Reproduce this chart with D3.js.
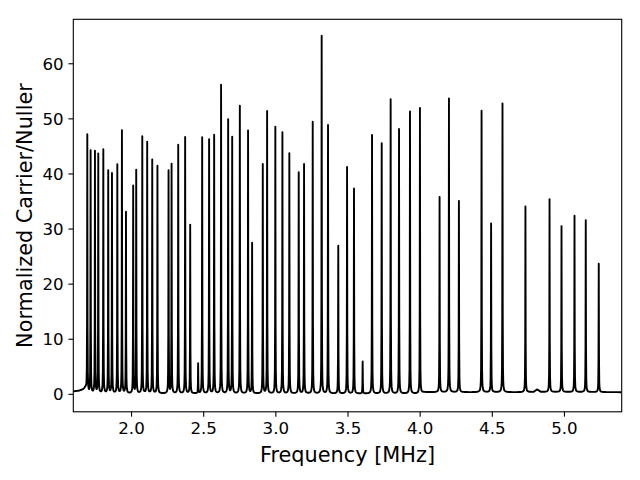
<!DOCTYPE html>
<html>
<head>
<meta charset="utf-8">
<script src="https://cdn.jsdelivr.net/npm/d3@7"></script>
<style>
  html, body { margin: 0; padding: 0; background: #fff; }
  svg { display: block; font-family: "DejaVu Sans", sans-serif; }
</style>
</head>
<body>
<svg id="chart" width="640" height="480"></svg>
<script>
// ---- data ----
// resonance peak frequencies (MHz) and their heights
const peakFreq = [
  1.697, 1.720, 1.750, 1.773, 1.808, 1.842, 1.868, 1.905, 1.937, 1.965,
  2.015, 2.036, 2.078, 2.112, 2.147, 2.183, 2.260, 2.281, 2.327, 2.375,
  2.410, 2.465, 2.493, 2.541, 2.576, 2.624, 2.673, 2.701, 2.754, 2.811,
  2.839, 2.913, 2.943, 3.000, 3.049, 3.097, 3.162, 3.199, 3.259, 3.321,
  3.365, 3.436, 3.497, 3.545, 3.605, 3.670, 3.737, 3.799, 3.857, 3.933,
  4.002, 4.138, 4.203, 4.272, 4.429, 4.495, 4.574, 4.733, 4.900, 4.983,
  5.073, 5.151, 5.241
];
const peakHeight = [
  46.8, 44.0, 43.9, 43.4, 44.2, 40.4, 39.9, 41.5, 47.7, 32.9,
  37.6, 40.5, 46.6, 45.6, 42.4, 41.3, 40.4, 41.6, 45.1, 46.5,
  30.6, 5.4, 46.5, 46.1, 46.9, 56.0, 49.7, 46.5, 52.2, 47.7,
  27.3, 41.6, 51.2, 48.4, 47.4, 43.6, 40.1, 41.6, 49.3, 64.9,
  48.7, 26.8, 41.1, 37.2, 5.8, 46.9, 45.4, 53.4, 48.0, 51.2,
  51.8, 35.4, 53.3, 34.7, 51.1, 30.6, 52.4, 33.7, 35.0, 30.1,
  32.0, 31.2, 23.3
];
// background level between the resonances
const baseFreq  = [1.60, 1.64, 1.67, 1.685, 1.697, 1.71, 4.00, 4.03, 4.70, 4.79, 4.814, 4.84, 5.40];
const baseValue = [0.45, 0.55, 0.80, 1.10, 0.20, 0.05, 0.05, 0.30, 0.30, 0.35, 0.80, 0.35, 0.30];

const xTicks = [2.0, 2.5, 3.0, 3.5, 4.0, 4.5, 5.0];
const yTicks = [0, 10, 20, 30, 40, 50, 60];
const xLabel = "Frequency [MHz]";
const yLabel = "Normalized Carrier/Nuller";

// ---- layout ----
const W = 640, H = 480;
const L = 73.3, R = 621.7, T = 19.3, B = 411.8;
const tickLen = 4.86, tickPad = 4.86;
const tickFont = 16.67, labelFont = 20.83;

const svg = d3.select("#chart");
const x = d3.scaleLinear().domain([1.6, 5.4]).range([L, R]);
const y = d3.scaleLinear().domain([-3.26, 67.98]).range([B, T]);

// drawing shape of a single narrow resonance (distance in px -> fraction of peak)
const cuspPx   = [0, 0.1, 0.25, 0.5, 0.75, 1, 1.5, 2, 3, 4, 6, 10, 20];
const cuspFrac = [1, 0.69, 0.265, 0.083, 0.038, 0.022, 0.0099, 0.0056, 0.0025, 0.0014, 0.0006, 0.0002, 0.00005];
const cuspScale = d3.scaleLinear().domain(cuspPx).range(cuspFrac).clamp(true);
const baseScale = d3.scaleLinear().domain(baseFreq).range(baseValue).clamp(true);
const pxPerMHz = (R - L) / (5.4 - 1.6);

function valueAt(f) {
  let v = baseScale(f);
  for (let i = 0; i < peakFreq.length; i++) {
    const d = Math.abs(f - peakFreq[i]) * pxPerMHz;
    if (d <= 20) v += peakHeight[i] * cuspScale(d);
  }
  return v;
}

// sample positions: a fine grid plus points around each peak
let xs = d3.range(L, R + 0.01, 0.5).map(p => x.invert(p));
const offs = [0, 0.1, 0.25, 0.5, 0.75, 1, 1.5, 2];
peakFreq.forEach(f => offs.forEach(o => {
  xs.push(f + o / pxPerMHz);
  if (o > 0) xs.push(f - o / pxPerMHz);
}));
xs = xs.filter(f => f >= 1.6 && f <= 5.4).sort((a, b) => a - b);
const pts = xs.map(f => [f, valueAt(f)]);

// clip
svg.append("defs").append("clipPath").attr("id", "clip")
  .append("rect").attr("x", L).attr("y", T).attr("width", R - L).attr("height", B - T);

svg.append("path")
  .datum(pts)
  .attr("clip-path", "url(#clip)")
  .attr("fill", "none")
  .attr("stroke", "#000")
  .attr("stroke-width", 1.9)
  .attr("stroke-linejoin", "round")
  .attr("d", d3.line().x(d => x(d[0])).y(d => y(d[1])));

// axes
const xAxis = d3.axisBottom(x).tickValues(xTicks).tickFormat(d3.format(".1f"))
  .tickSize(tickLen).tickPadding(tickPad);
const gx = svg.append("g").attr("transform", `translate(0,${B})`).call(xAxis);
gx.select(".domain").remove();
gx.selectAll(".tick line").attr("stroke", "#000").attr("stroke-width", 1.1);
gx.selectAll(".tick text").attr("fill", "#000").attr("font-size", tickFont)
  .attr("font-family", "DejaVu Sans").attr("dy", null).attr("y", 22.5);

const yAxis = d3.axisLeft(y).tickValues(yTicks).tickFormat(d3.format("d"))
  .tickSize(tickLen).tickPadding(tickPad);
const gy = svg.append("g").attr("transform", `translate(${L},0)`).call(yAxis);
gy.select(".domain").remove();
gy.selectAll(".tick line").attr("stroke", "#000").attr("stroke-width", 1.1);
gy.selectAll(".tick text").attr("fill", "#000").attr("font-size", tickFont)
  .attr("font-family", "DejaVu Sans").attr("dy", "0.36em");

// frame
svg.append("rect").attr("x", L).attr("y", T).attr("width", R - L).attr("height", B - T)
  .attr("fill", "none").attr("stroke", "#000").attr("stroke-width", 1.1);

// labels
svg.append("text").attr("x", (L + R) / 2).attr("y", 462)
  .attr("text-anchor", "middle").attr("font-size", labelFont).attr("fill", "#000")
  .text(xLabel);
svg.append("text").attr("transform", `translate(32,${(T + B) / 2}) rotate(-90)`)
  .attr("text-anchor", "middle").attr("font-size", labelFont).attr("fill", "#000")
  .text(yLabel);
</script>
</body>
</html>
